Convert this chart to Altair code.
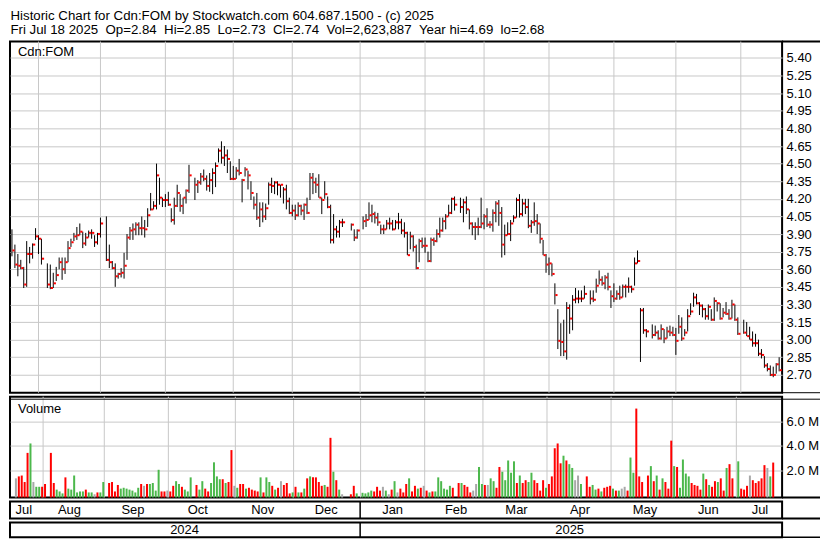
import altair as alt
import pandas as pd

# ---------------- data ----------------
dates = pd.bdate_range("2024-07-19", "2025-07-18")  # weekday slots, holidays are None

highs = [
    3.94, 3.81, 3.73, 3.68, 3.62, 3.84, 3.79, 3.82, 3.95, 3.89,
    3.86, None, 3.65, 3.64, 3.57, 3.62, 3.70, 3.70, 3.70, 3.84,
    3.86, 3.91, 3.96, 3.99, 3.92, 3.91, 3.93, 3.94, 3.89, 3.91,
    4.04, None, 4.05, 3.81, 3.67, 3.65, 3.57, 3.61, 3.74, 3.90,
    3.96, 3.99, 4.00, 4.00, 4.05, 4.02, 4.12, 4.25, 4.18, 4.50,
    4.38, 4.21, 4.24, 4.26, 4.12, 4.21, 4.32, 4.24, 4.21, 4.28,
    4.49, None, 4.38, 4.36, 4.42, 4.45, 4.40, 4.42, 4.46, 4.51,
    4.63, 4.69, 4.65, 4.62, 4.52, 4.48, 4.47, 4.54, 4.37, 4.47,
    4.44, 4.35, 4.22, 4.25, 4.17, 4.17, 4.16, 4.34, 4.38, 4.35,
    4.35, 4.32, 4.30, 4.32, 4.21, 4.15, 4.15, 4.17, 4.15, 4.16,
    4.21, 4.42, 4.42, 4.38, 4.41, 4.21, 4.35, 4.22, 4.15, 4.07,
    3.97, 4.02, 4.03, None, None, 3.99, 3.94, 3.94, None, 4.05,
    4.07, 4.17, 4.15, 4.09, 4.08, 3.98, 3.98, 4.02, 4.04, 4.02,
    4.02, 4.08, 4.03, 4.00, 3.92, 3.92, 3.89, 3.81, 3.86, 3.87,
    3.87, 3.75, 3.87, 3.87, 3.94, 4.04, 4.04, 4.07, 4.15, 4.21,
    4.22, None, 4.21, 4.20, 4.22, 4.11, 4.00, 4.00, 4.04, 4.21,
    4.07, 4.12, 4.01, 4.11, 4.18, 4.19, 4.13, 3.98, 4.00, 4.02,
    4.06, 4.21, 4.24, 4.20, 4.20, 4.20, 4.02, 4.17, 4.07, 3.99,
    3.85, 3.73, 3.70, 3.65, 3.48, 3.26, 3.14, 3.17, 3.32, 3.30,
    3.38, 3.44, 3.42, 3.42, 3.46, None, 3.42, 3.42, 3.52, 3.59,
    3.54, 3.55, 3.57, 3.42, 3.48, 3.42, 3.46, 3.47, 3.47, 3.53,
    3.46, 3.70, 3.76, 3.27, 3.27, 3.09, None, 3.13, 3.12, 3.08,
    3.13, 3.09, 3.11, 3.12, 3.11, 3.10, 3.21, 3.19, 3.09, 3.26,
    3.31, 3.40, 3.39, 3.32, 3.30, 3.27, 3.30, 3.26, 3.36, 3.32,
    3.31, 3.27, 3.32, 3.26, 3.34, 3.30, 3.19, None, 3.17, 3.15,
    3.11, 3.07, 3.05, 3.00, 2.92, 2.86, 2.80, 2.78, 2.77, 2.80,
    2.85,
]

lows = [
    3.71, 3.61, 3.54, 3.60, 3.44, 3.45, 3.65, 3.69, 3.85, 3.73,
    3.64, None, 3.44, 3.43, 3.44, 3.50, 3.60, 3.51, 3.56, 3.66,
    3.79, 3.84, 3.85, 3.89, 3.78, 3.80, 3.87, 3.86, 3.79, 3.81,
    3.87, None, 3.67, 3.61, 3.60, 3.45, 3.52, 3.53, 3.52, 3.68,
    3.85, 3.85, 3.89, 3.89, 3.89, 3.87, 3.96, 4.10, 4.11, 4.11,
    4.15, 4.13, 4.13, 4.14, 4.00, 3.98, 4.13, 4.09, 4.07, 4.16,
    4.25, None, 4.19, 4.25, 4.32, 4.35, 4.27, 4.26, 4.24, 4.30,
    4.51, 4.50, 4.48, 4.42, 4.36, 4.36, 4.37, 4.40, 4.17, 4.39,
    4.28, 4.19, 4.11, 4.02, 3.96, 4.00, 4.02, 4.15, 4.25, 4.24,
    4.23, 4.21, 4.16, 4.11, 4.07, 4.05, 4.02, 4.05, 4.06, 4.02,
    4.07, 4.19, 4.24, 4.25, 4.21, 4.07, 4.20, 4.12, 3.82, 3.82,
    3.87, 3.87, 3.96, None, None, 3.93, 3.84, 3.86, None, 3.94,
    3.96, 4.02, 4.00, 3.99, 3.97, 3.90, 3.90, 3.94, 3.94, 3.93,
    3.94, 3.94, 3.90, 3.87, 3.72, 3.77, 3.75, 3.60, 3.66, 3.78,
    3.74, 3.66, 3.66, 3.80, 3.83, 3.87, 3.92, 3.94, 4.05, 4.07,
    4.10, None, 4.08, 4.00, 4.07, 3.94, 3.89, 3.85, 3.89, 3.95,
    3.94, 3.96, 3.95, 3.92, 4.00, 3.97, 3.70, 3.72, 3.89, 3.84,
    4.00, 4.04, 4.04, 4.05, 4.07, 3.95, 3.91, 3.97, 3.90, 3.82,
    3.72, 3.57, 3.55, 3.54, 3.30, 2.92, 2.86, 2.86, 2.83, 3.05,
    3.08, 3.31, 3.31, 3.32, 3.35, None, 3.30, 3.32, 3.40, 3.47,
    3.46, 3.43, 3.42, 3.27, 3.32, 3.34, 3.34, 3.36, 3.36, 3.40,
    3.40, 3.46, 3.65, 2.81, 3.05, 3.02, None, 3.01, 3.03, 3.00,
    3.00, 2.97, 3.01, 3.03, 3.03, 2.87, 3.05, 2.99, 3.03, 3.07,
    3.21, 3.28, 3.30, 3.21, 3.19, 3.17, 3.17, 3.16, 3.16, 3.24,
    3.17, 3.19, 3.21, 3.17, 3.18, 3.16, 3.04, None, 3.05, 3.03,
    3.00, 2.94, 2.94, 2.86, 2.84, 2.76, 2.73, 2.69, 2.68, 2.71,
    2.73,
]

closes = [
    3.76, 3.64, 3.63, 3.61, 3.47, 3.73, 3.73, 3.81, 3.88, 3.86,
    3.69, None, 3.47, 3.44, 3.48, 3.55, 3.66, 3.60, 3.66, 3.78,
    3.83, 3.88, 3.89, 3.92, 3.82, 3.87, 3.91, 3.91, 3.83, 3.90,
    3.99, None, 3.68, 3.66, 3.61, 3.54, 3.56, 3.57, 3.63, 3.87,
    3.93, 3.94, 3.98, 3.95, 3.95, 3.94, 4.06, 4.11, 4.14, 4.40,
    4.21, 4.19, 4.19, 4.15, 4.02, 4.14, 4.25, 4.14, 4.21, 4.27,
    4.40, None, 4.32, 4.34, 4.39, 4.37, 4.31, 4.36, 4.42, 4.48,
    4.61, 4.55, 4.57, 4.54, 4.37, 4.37, 4.44, 4.42, 4.36, 4.45,
    4.40, 4.25, 4.15, 4.04, 4.11, 4.05, 4.12, 4.32, 4.31, 4.34,
    4.32, 4.32, 4.28, 4.18, 4.08, 4.10, 4.06, 4.14, 4.10, 4.15,
    4.08, 4.38, 4.34, 4.32, 4.21, 4.19, 4.24, 4.13, 3.85, 3.94,
    3.92, 4.00, 4.00, None, None, 3.98, 3.87, 3.93, None, 4.01,
    4.02, 4.06, 4.07, 4.04, 4.00, 3.94, 3.94, 3.99, 3.99, 3.94,
    4.00, 4.00, 3.93, 3.91, 3.72, 3.88, 3.79, 3.61, 3.84, 3.80,
    3.80, 3.67, 3.85, 3.84, 3.90, 3.93, 4.01, 4.05, 4.08, 4.20,
    4.15, None, 4.13, 4.17, 4.11, 3.99, 3.96, 3.96, 3.96, 3.99,
    4.05, 3.98, 3.98, 4.08, 4.16, 4.08, 3.81, 3.89, 3.90, 3.99,
    4.04, 4.19, 4.07, 4.16, 4.13, 3.97, 4.00, 4.01, 3.99, 3.86,
    3.72, 3.64, 3.65, 3.56, 3.38, 2.99, 2.98, 2.90, 3.27, 3.18,
    3.34, 3.35, 3.35, 3.35, 3.39, None, 3.35, 3.34, 3.46, 3.51,
    3.48, 3.53, 3.45, 3.37, 3.35, 3.39, 3.36, 3.45, 3.45, 3.45,
    3.43, 3.65, 3.67, 3.25, 3.08, 3.07, None, 3.04, 3.06, 3.01,
    3.09, 3.01, 3.07, 3.06, 3.04, 2.99, 3.11, 3.01, 3.06, 3.20,
    3.24, 3.36, 3.31, 3.29, 3.26, 3.20, 3.28, 3.17, 3.33, 3.31,
    3.18, 3.23, 3.22, 3.18, 3.30, 3.17, 3.05, None, 3.06, 3.03,
    3.00, 2.97, 2.97, 2.88, 2.87, 2.78, 2.75, 2.70, 2.70, 2.79,
    2.74,
]

volumes_m = [
    1.33, 1.49, 1.56, 1.03, 3.41, 4.18, 1.03, 0.64, 0.64, 0.64,
    0.87, None, 3.41, 0.95, 0.41, 0.26, 0.10, 1.41, 0.49, 0.41,
    1.56, 0.18, 0.26, 0.26, 0.41, 0.18, 0.18, 0.03, 0.18, 0.18,
    1.03, None, 0.95, 1.03, 0.26, 0.79, 0.49, 0.56, 0.49, 0.41,
    0.33, 0.18, 0.56, 0.87, 0.72, 0.87, 0.87, 0.95, 0.33, 2.03,
    0.26, 0.26, 0.33, 0.26, 0.72, 1.10, 0.87, 0.64, 0.41, 0.26,
    1.41, None, 0.79, 0.41, 1.10, 0.49, 0.26, 0.95, 2.64, 1.49,
    1.26, 1.26, 0.95, 1.03, 3.64, 0.72, 0.56, 0.87, 0.87, 0.49,
    0.56, 0.41, 0.33, 0.26, 1.41, 0.18, 1.41, 1.03, 0.72, 0.41,
    0.56, 1.10, 0.79, 0.95, 0.10, 0.18, 0.64, 0.18, 0.18, 0.49,
    1.33, 1.49, 1.41, 1.41, 1.03, 0.72, 0.79, 0.64, 4.64, 1.87,
    1.18, 0.41, 0.03, None, None, 0.03, 0.72, 0.10, None, 0.15,
    0.10, 0.18, 0.33, 0.26, 0.64, 0.33, 0.64, 0.33, 0.03, 0.41,
    1.10, 0.18, 0.49, 0.18, 0.87, 1.33, 0.26, 0.72, 0.49, 0.56,
    0.72, 0.33, 0.18, 0.26, 0.26, 1.41, 1.10, 0.49, 0.41, 0.72,
    0.56, None, 0.95, 0.95, 0.79, 0.64, 0.18, 0.33, 0.87, 2.26,
    0.87, 0.79, 0.79, 1.33, 1.10, 0.56, 2.26, 1.87, 1.18, 2.79,
    1.79, 2.72, 0.95, 1.56, 0.95, 1.18, 1.03, 1.79, 1.18, 0.95,
    0.33, 1.18, 0.56, 0.87, 1.49, 3.79, 4.18, 2.56, 3.18, 2.79,
    2.49, 2.18, 1.18, 1.56, 0.87, None, 1.49, 0.64, 0.79, 0.41,
    0.49, 0.26, 0.56, 0.64, 0.72, 0.49, 0.33, 0.33, 0.49, 0.64,
    0.33, 3.03, 1.79, 7.03, 1.49, 1.03, None, 1.56, 2.33, 1.10,
    1.56, 0.41, 1.33, 1.03, 0.49, 4.41, 2.33, 2.26, 0.56, 2.87,
    1.72, 1.49, 0.95, 0.79, 0.72, 0.41, 1.72, 1.26, 0.79, 0.64,
    1.10, 1.03, 1.33, 0.33, 2.18, 2.49, 1.33, None, 2.72, 0.49,
    0.41, 0.72, 1.56, 1.18, 0.95, 1.10, 1.33, 2.41, 2.18, 1.49,
    2.62,
]

NB = "\u00a0"
title_lines = [
    "Historic Chart for Cdn:FOM by Stockwatch.com 604.687.1500 - (c) 2025",
    f"Fri Jul 18 2025 {NB}Op=2.84 {NB}Hi=2.85 {NB}Lo=2.73 {NB}Cl=2.74 {NB}Vol=2,623,887 {NB}Year hi=4.69 {NB}lo=2.68",
]
price_ticks = [round(2.70 + 0.15 * k, 2) for k in range(19)]
volume_ticks = [2e6, 4e6, 6e6]

# ---------------- tables ----------------
rows = []
prev = None
for i, (h, l, c, v) in enumerate(zip(highs, lows, closes, volumes_m)):
    if c is None:
        continue
    if prev is None or c == prev:
        d = "flat"
    elif c > prev:
        d = "up"
    else:
        d = "down"
    prev = c
    rows.append(dict(i=i, high=h, low=l, close=c, vol=v * 1e6, dir=d))
df = pd.DataFrame(rows)

idx = pd.Series(range(len(dates)), index=dates)
month_starts = pd.date_range("2024-08-01", "2025-07-01", freq="MS")
grid_df = pd.DataFrame({"g": [int(dates.searchsorted(d, side="right")) - 1 for d in month_starts]})
jan_df = grid_df[grid_df["g"] == int(dates.searchsorted(pd.Timestamp("2025-01-01"), side="right")) - 1]

mg = idx.groupby([dates.year, dates.month]).mean()
month_df = pd.DataFrame({
    "m": mg.values,
    "name": [pd.Timestamp(year=y, month=m, day=1).strftime("%b") for (y, m) in mg.index],
})
yg = idx.groupby(dates.year).mean()
year_df = pd.DataFrame({"m": yg.values, "name": [str(y) for y in yg.index]})

# ---------------- styling ----------------
W = 774
EXT = 38          # width of the right-hand label column
HP = 352
HV = 101
HM = 17
HY = 15
FONT = "Liberation Sans"
GRID = "#c8c8c8"
xscale = alt.Scale(domain=[-0.66, 261.0], nice=False, zero=False)
one = pd.DataFrame({"k": [0]})


def X(field):
    return alt.X(f"{field}:Q", scale=xscale, axis=None)


def hline(y, x0, x1, width=1.5):
    return alt.Chart(one).mark_rule(color="black", strokeWidth=width).encode(
        x=alt.value(x0), x2=alt.value(x1), y=alt.value(y))


yscale_p = alt.Scale(domain=[2.548, 5.54], nice=False, zero=False)
yaxis_p = alt.Axis(orient="right", values=price_ticks, format=".2f", grid=True,
                   gridColor=GRID, gridWidth=1, ticks=False, domain=False,
                   labelFontSize=13, labelFont=FONT, labelColor="black",
                   labelPadding=4, title=None, labelOverlap=False)


def YP(field):
    return alt.Y(f"{field}:Q", scale=yscale_p, axis=yaxis_p)


vgrid_p = alt.Chart(grid_df).mark_rule(color=GRID, strokeWidth=1).encode(x=X("g"))
hl = alt.Chart(df).mark_rule(color="black", strokeWidth=1).encode(
    x=X("i"), y=YP("low"), y2="high:Q")
cl = alt.Chart(df).transform_calculate(
    xa="datum.i + 0.15", xb="datum.i + 0.9"
).mark_rule(color="#ff0000", strokeWidth=2, strokeCap="butt").encode(
    x=X("xa"), x2="xb:Q", y=YP("close"))
lab_p = alt.Chart(pd.DataFrame({"t": ["Cdn:FOM"]})).mark_text(
    align="left", baseline="top", fontSize=13, font=FONT, color="black"
).encode(x=alt.value(8), y=alt.value(4), text="t:N")
price = alt.layer(
    vgrid_p, hl, cl, lab_p,
    hline(0, W, W + EXT, 2), hline(HP, W, W + EXT, 1),
).properties(width=W, height=HP)

yscale_v = alt.Scale(domain=[-0.23e6, 8.0e6], nice=False, zero=False)
yaxis_v = alt.Axis(orient="right", values=volume_ticks, grid=True, gridColor=GRID,
                   ticks=False, domain=False, labelFontSize=13, labelFont=FONT,
                   labelColor="black", labelPadding=4, title=None,
                   labelExpr="format(datum.value / 1000000, '.1f') + ' M'")
vgrid_v = alt.Chart(grid_df).mark_rule(color=GRID, strokeWidth=1).encode(x=X("g"))
bars = alt.Chart(df).mark_bar(size=2, xOffset=-1).encode(
    x=X("i"),
    y=alt.Y("vol:Q", scale=yscale_v, axis=yaxis_v),
    y2=alt.datum(-0.23e6),
    color=alt.Color("dir:N", scale=alt.Scale(domain=["up", "down", "flat"],
                                             range=["#4cb84c", "#ff0000", "#a8a8a8"]),
                    legend=None),
)
lab_v = alt.Chart(pd.DataFrame({"t": ["Volume"]})).mark_text(
    align="left", baseline="top", fontSize=13, font=FONT, color="black"
).encode(x=alt.value(8), y=alt.value(6), text="t:N")
volume = alt.layer(
    vgrid_v, bars, lab_v,
    hline(2.5, 0, W + EXT, 1), hline(HV, W, W + EXT, 2),
).properties(width=W, height=HV)

div_m = alt.Chart(jan_df).mark_rule(color="black", strokeWidth=1.5).encode(x=X("g"))
txt_m = alt.Chart(month_df).mark_text(fontSize=13, font=FONT, color="black",
                                      baseline="middle").encode(
    x=X("m"), y=alt.value(HM / 2 + 0.5), text="name:N")
months = alt.layer(div_m, txt_m, hline(HM, W, W + EXT, 2)).properties(width=W, height=HM)

div_y = alt.Chart(jan_df).mark_rule(color="black", strokeWidth=1.5).encode(x=X("g"))
txt_y = alt.Chart(year_df).mark_text(fontSize=13, font=FONT, color="black",
                                     baseline="middle").encode(
    x=X("m"), y=alt.value(HY / 2 + 0.5), text="name:N")
years = alt.layer(div_y, txt_y, hline(HY, W, W + EXT, 1.5)).properties(width=W, height=HY)

chart = alt.vconcat(price, volume, months, years, spacing=0).properties(
    title=alt.TitleParams(text=title_lines, anchor="start", fontSize=13.3, font=FONT,
                          fontWeight="normal", lineHeight=14, offset=3, color="black",
                          dx=2),
    padding=0,
    background="white",
).configure_view(stroke="black", strokeWidth=2)

chart.save("out.html", embed_options={"renderer": "svg", "actions": False})
